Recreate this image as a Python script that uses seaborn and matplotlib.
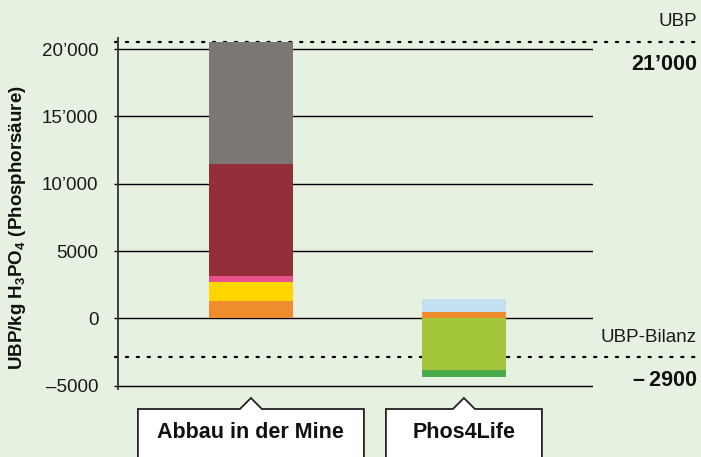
import matplotlib
matplotlib.use('Agg')
import matplotlib.pyplot as plt
from matplotlib.patches import Polygon
import numpy as np
import seaborn as sns

# Data
categories = ['Abbau in der Mine', 'Phos4Life']
segment_names = ['Energie', 'Chemikalien', 'Transport', 'Schwermetalle',
                 'Abbau', 'Klärschlamm', 'Gutschrift Dünger', 'Gutschrift Metalle']
abbau_values = [1300, 1400, 450, 8300, 9100, 0, 0, 0]
phos_values = [470, 0, 0, 0, 0, 960, -3820, -510]
segment_colors = ['#ef8c2d', '#ffd600', '#e8518c', '#932f39', '#7c7774',
                  '#c2e0ef', '#a2c539', '#4daa4a']

yticks = [-5000, 0, 5000, 10000, 15000, 20000]
ytick_labels = ['–5000', '0', '5000', '10’000', '15’000', '20’000']
ylabel = 'UBP/kg H$_\\mathbf{3}$PO$_\\mathbf{4}$ (Phosphorsäure)'
total_label = '21’000'
balance_label = '–\u20092900'

BG = '#e6f1e1'
W, H = 701, 457

sns.set_theme(style='white')
plt.rcParams['font.family'] = ['Liberation Sans', 'DejaVu Sans']
plt.rcParams['mathtext.fontset'] = 'custom'
plt.rcParams['mathtext.rm'] = 'Liberation Sans'
plt.rcParams['mathtext.bf'] = 'Liberation Sans:bold'

fig = plt.figure(figsize=(W / 100, H / 100), dpi=100, facecolor=BG)
ax = fig.add_axes([118 / W, 1 - 389 / H, 475 / W, 351 / H])
ax.set_facecolor(BG)

# stacked bars: positive and negative parts stacked separately
pos_base = np.zeros(2)
neg_base = np.zeros(2)
for name, a, p, c in zip(segment_names, abbau_values, phos_values, segment_colors):
    heights = np.array([a, p], dtype=float)
    bottoms = np.where(heights >= 0, pos_base, neg_base)
    sns.barplot(x=categories, y=heights, bottom=bottoms, color=c, saturation=1,
                width=0.394, linewidth=0, errorbar=None, ax=ax, zorder=2)
    pos_base += np.where(heights > 0, heights, 0)
    neg_base += np.where(heights < 0, heights, 0)

abbau_total = sum(abbau_values)
phos_balance = sum(phos_values)

ax.set_xlim(-0.624, 1.606)
ax.set_ylim(-5250, 20830)
ax.set_yticks(yticks)
ax.set_yticklabels(ytick_labels)
ax.set_xticks([])
ax.set_xlabel('')
ax.yaxis.grid(True, color='black', linewidth=1)
ax.set_axisbelow(True)
for s in ['top', 'right', 'bottom']:
    ax.spines[s].set_visible(False)
ax.spines['left'].set_color('#333333')
ax.spines['left'].set_linewidth(1.3)
ax.tick_params(axis='y', length=3, width=1, color='black', pad=11,
               labelsize=13.5, labelcolor='#1a1a1a', left=True)

ax.set_ylabel(ylabel, fontsize=13.5, fontweight='bold', color='#111111')
ax.yaxis.set_label_coords(-0.19, 0.46)

# dotted reference lines (total of mine route, balance of Phos4Life)
for yv in [abbau_total, phos_balance]:
    ax.axhline(yv, xmin=(115 - 118) / 475, xmax=(701 - 118) / 475, color='black',
               linewidth=1.6, linestyle=(0, (1, 3.9)), dash_capstyle='round',
               clip_on=False, zorder=1.5)

# right-hand annotations
fig.text(697 / W, 1 - 22 / H, 'UBP', ha='right', va='center', fontsize=13.5, color='#1a1a1a')
fig.text(697 / W, 1 - 65 / H, total_label, ha='right', va='center', fontsize=15.5,
         fontweight='bold', color='#111111')
fig.text(697 / W, 1 - 337 / H, 'UBP-Bilanz', ha='right', va='center', fontsize=13.5,
         color='#1a1a1a')
fig.text(697 / W, 1 - 380 / H, balance_label, ha='right', va='center', fontsize=15.5,
         fontweight='bold', color='#111111')

# category label boxes with a small notch pointing up to each bar
box_half_widths = [113, 78]
box_top, box_bottom, notch = 409, 475, 11
for i, (cat, hw) in enumerate(zip(categories, box_half_widths)):
    cx = ax.transData.transform((i, 0))[0]
    pts_px = [(cx - hw, box_bottom), (cx - hw, box_top), (cx - notch, box_top),
              (cx, box_top - notch), (cx + notch, box_top), (cx + hw, box_top),
              (cx + hw, box_bottom)]
    pts = [(x / W, 1 - y / H) for x, y in pts_px]
    poly = Polygon(pts, closed=False, facecolor='white', edgecolor='#222222',
                   linewidth=1.3, transform=fig.transFigure, clip_on=False, zorder=2)
    fig.add_artist(poly)
    fig.text(cx / W, 1 - 433 / H, cat, ha='center', va='center', fontsize=15.5,
             fontweight='bold', color='#111111', zorder=3)

fig.savefig('out.png', dpi=100, facecolor=BG)
